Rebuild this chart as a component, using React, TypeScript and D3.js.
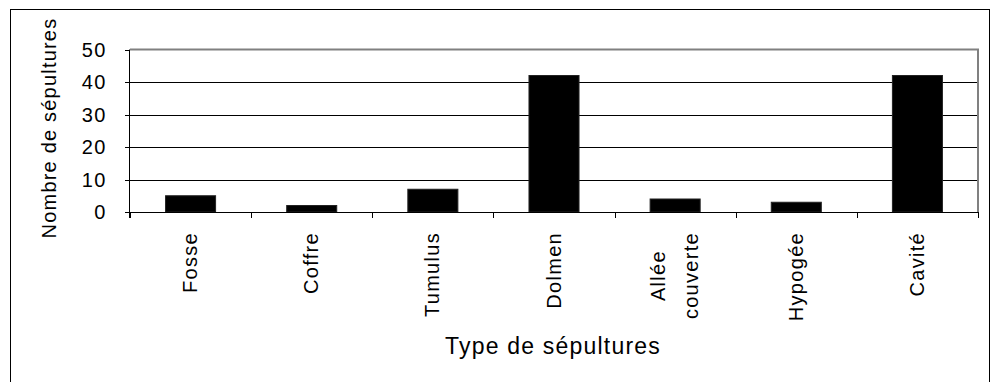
import React, { useEffect, useRef } from "react";
import * as d3 from "d3";

const categories = ["Fosse", "Coffre", "Tumulus", "Dolmen", "Allée couverte", "Hypogée", "Cavité"];
const categoryLines = [["Fosse"], ["Coffre"], ["Tumulus"], ["Dolmen"], ["Allée", "couverte"], ["Hypogée"], ["Cavité"]];
const values = [5, 2, 7, 42, 4, 3, 42];
const yTicks = [0, 10, 20, 30, 40, 50];
const yTitle = "Nombre de sépultures";
const xTitle = "Type de sépultures";

const W = 992;
const H = 382;
const FONT = "'Liberation Sans', Arial, sans-serif";

export default function App() {
  const ref = useRef<SVGSVGElement | null>(null);

  useEffect(() => {
    const svg = d3.select(ref.current);
    svg.selectAll("*").remove();

    const left = 130, right = 978, top = 49.5, bottom = 212;
    const x = d3.scaleBand<string>().domain(categories).range([left, right]).padding(0);
    const y = d3.scaleLinear().domain([0, 50]).range([bottom, top]);

    // outer border
    svg.append("rect").attr("x", 10.5).attr("y", 9.5).attr("width", 979).attr("height", 380)
      .attr("fill", "white").attr("stroke", "#000").attr("stroke-width", 1);

    // grid lines
    svg.append("g").selectAll("line").data(yTicks.filter(t => t > 0 && t < 50)).join("line")
      .attr("x1", left).attr("x2", right)
      .attr("y1", d => Math.round(y(d)) + 0.5).attr("y2", d => Math.round(y(d)) + 0.5)
      .attr("stroke", "#000").attr("stroke-width", 1);

    // plot area top & right border (gray)
    svg.append("path")
      .attr("d", `M${left},${y(50)}H${right}V${bottom}`)
      .attr("fill", "none").attr("stroke", "#808080").attr("stroke-width", 2);

    // bars
    const barW = x.bandwidth() * 0.413;
    svg.append("g").selectAll("rect").data(values).join("rect")
      .attr("x", (d, i) => x(categories[i])! + x.bandwidth() / 2 - barW / 2)
      .attr("y", d => y(d))
      .attr("width", barW)
      .attr("height", d => bottom - y(d))
      .attr("fill", "#000").attr("stroke", "#222").attr("stroke-width", 1);

    // y axis
    const ya = svg.append("g").attr("stroke", "#000").attr("stroke-width", 1);
    ya.append("line").attr("x1", left - 0.5).attr("x2", left - 0.5).attr("y1", y(50)).attr("y2", bottom + 6);
    ya.selectAll("line.t").data(yTicks).join("line").attr("class", "t")
      .attr("x1", left - 5).attr("x2", left)
      .attr("y1", d => Math.round(y(d)) + 0.5).attr("y2", d => Math.round(y(d)) + 0.5);

    svg.append("g").selectAll("text").data(yTicks).join("text")
      .attr("x", 106.5).attr("y", d => y(d)).attr("dy", "0.35em")
      .attr("text-anchor", "end")
      .attr("font-family", FONT).attr("font-size", 20).attr("letter-spacing", 1.2)
      .attr("fill", "#000").text(d => String(d));

    // x axis
    const xa = svg.append("g").attr("stroke", "#000").attr("stroke-width", 1);
    xa.append("line").attr("x1", left).attr("x2", right).attr("y1", bottom + 0.5).attr("y2", bottom + 0.5);
    const bounds = categories.map(c => x(c)!).concat([right]);
    xa.selectAll("line.t").data(bounds).join("line").attr("class", "t")
      .attr("x1", d => Math.round(d) + 0.5).attr("x2", d => Math.round(d) + 0.5)
      .attr("y1", bottom).attr("y2", bottom + 6);

    // x labels
    const labelTop = 232;
    const lineGap = 33;
    categories.forEach((c, i) => {
      const lines = categoryLines[i];
      const cx = x(c)! + x.bandwidth() / 2;
      const g = svg.append("g").attr("transform", `translate(${cx},${labelTop}) rotate(-90)`);
      const n = lines.length;
      const texts = lines.map((ln, j) =>
        g.append("text")
          .attr("y", 6.5 + (j - (n - 1) / 2) * lineGap)
          .attr("font-family", FONT).attr("font-size", 20).attr("letter-spacing", 1.3)
          .attr("fill", "#000").text(ln)
      );
      const lens = texts.map(t => (t.node() as SVGTextElement).getComputedTextLength());
      const maxLen = Math.max(...lens);
      texts.forEach(t => t.attr("text-anchor", "middle").attr("x", -maxLen / 2));
    });

    // titles
    svg.append("text")
      .attr("transform", `translate(56,128) rotate(-90)`)
      .attr("text-anchor", "middle")
      .attr("font-family", FONT).attr("font-size", 20).attr("letter-spacing", 1.2)
      .attr("fill", "#000").text(yTitle);

    svg.append("text")
      .attr("x", 553).attr("y", 354)
      .attr("text-anchor", "middle")
      .attr("font-family", FONT).attr("font-size", 23).attr("letter-spacing", 1.2)
      .attr("fill", "#000").text(xTitle);
  }, []);

  return (
    <svg
      ref={ref}
      width={W}
      height={H}
      style={{ position: "absolute", left: 0, top: 0, background: "white" }}
    />
  );
}
